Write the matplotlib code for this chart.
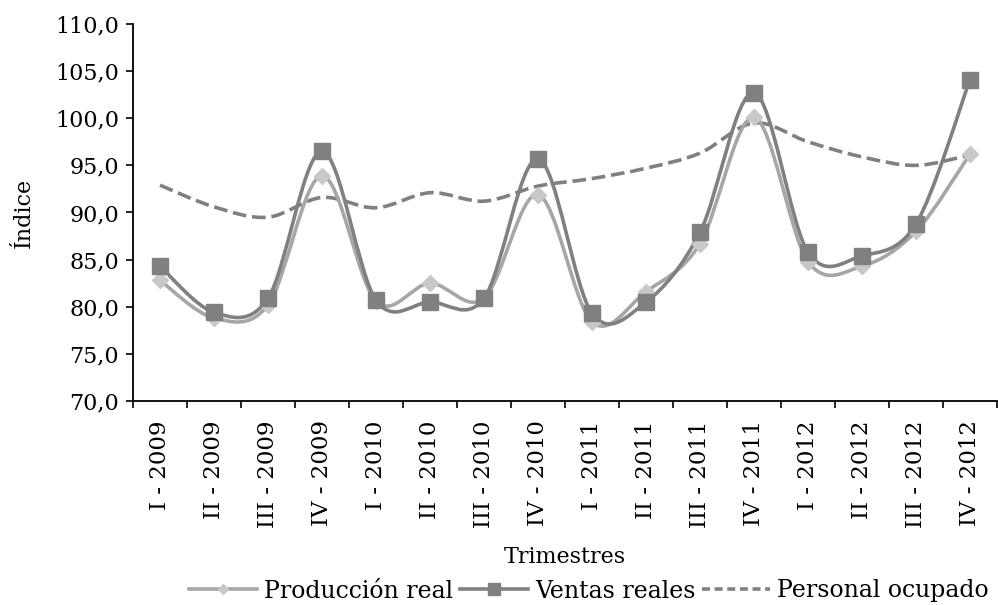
import matplotlib
matplotlib.use("Agg")
import matplotlib.pyplot as plt
from matplotlib.path import Path
from matplotlib.patches import PathPatch
from matplotlib.lines import Line2D
from matplotlib.ticker import FuncFormatter, FixedLocator

plt.rcParams['font.family'] = ['DejaVu Serif']

categories = ["I - 2009", "II - 2009", "III - 2009", "IV - 2009",
              "I - 2010", "II - 2010", "III - 2010", "IV - 2010",
              "I - 2011", "II - 2011", "III - 2011", "IV - 2011",
              "I - 2012", "II - 2012", "III - 2012", "IV - 2012"]
produccion = [82.8, 78.8, 80.2, 93.9, 80.6, 82.5, 80.9, 91.9,
              78.4, 81.6, 86.7, 100.1, 84.8, 84.3, 88.0, 96.2]
ventas = [84.3, 79.4, 80.9, 96.5, 80.7, 80.5, 80.9, 95.7,
          79.3, 80.5, 87.9, 102.7, 85.8, 85.4, 88.8, 104.1]
personal = [92.9, 90.6, 89.5, 91.6, 90.5, 92.1, 91.2, 92.8,
            93.6, 94.7, 96.3, 99.5, 97.5, 95.9, 95.0, 96.1]
series_names = ["Producción real", "Ventas reales", "Personal ocupado"]

fig = plt.figure(figsize=(9.98, 6.05), dpi=100)
ax = fig.add_axes([133/998, 1-401/605, (997-133)/998, (401-24)/605])

x = list(range(len(categories)))


def smooth_path(xs, ys):
    n = len(xs)
    verts = [(xs[0], ys[0])]
    codes = [Path.MOVETO]
    for i in range(n - 1):
        i0 = max(i - 1, 0)
        i3 = min(i + 2, n - 1)
        c1 = (xs[i] + (xs[i + 1] - xs[i0]) / 6, ys[i] + (ys[i + 1] - ys[i0]) / 6)
        c2 = (xs[i + 1] - (xs[i3] - xs[i]) / 6, ys[i + 1] - (ys[i3] - ys[i]) / 6)
        verts += [c1, c2, (xs[i + 1], ys[i + 1])]
        codes += [Path.CURVE4] * 3
    return Path(verts, codes)


c_prod_line = '#A6A6A6'
c_prod_mark = '#C8C8C8'
c_vent = '#808080'
c_pers = '#808080'
dash = (0, (3.8, 1.6))

for ys, col, ls, z in [(personal, c_pers, dash, 2),
                       (produccion, c_prod_line, '-', 3),
                       (ventas, c_vent, '-', 4)]:
    patch = PathPatch(smooth_path(x, ys), facecolor='none', edgecolor=col,
                      lw=2.6, linestyle=ls, transform=ax.transData, zorder=z,
                      capstyle='butt')
    ax.add_patch(patch)

ax.plot(x, produccion, linestyle='none', marker='D', markersize=8,
        color=c_prod_mark, zorder=5)
ax.plot(x, ventas, linestyle='none', marker='s', markersize=12,
        color=c_vent, zorder=6)

ax.set_xlim(-0.5, len(categories) - 0.5)
ax.set_ylim(70, 110)
ax.set_yticks([70 + 5 * i for i in range(9)])
ax.yaxis.set_major_formatter(FuncFormatter(lambda v, p: f"{v:.1f}".replace('.', ',')))

ax.set_xticks(x)
ax.set_xticklabels(categories, rotation=90, fontsize=16.5)
ax.xaxis.set_minor_locator(FixedLocator([i - 0.5 for i in range(len(categories) + 1)]))
ax.tick_params(axis='x', which='major', length=0, pad=14)
ax.tick_params(axis='x', which='minor', length=5, width=1.2, direction='out')
ax.tick_params(axis='y', length=5, width=1.2, direction='out', labelsize=16, pad=5)

for s in ['top', 'right']:
    ax.spines[s].set_visible(False)
for s in ['left', 'bottom']:
    ax.spines[s].set_linewidth(1.3)

ax.set_ylabel("Índice", fontsize=16, labelpad=15)
ax.set_xlabel("Trimestres", fontsize=16, labelpad=13)

handles = [
    Line2D([], [], color=c_prod_line, lw=2.6, marker='D', markersize=5.5,
           markerfacecolor=c_prod_mark, markeredgecolor=c_prod_mark),
    Line2D([], [], color=c_vent, lw=2.6, marker='s', markersize=8.5),
    Line2D([], [], color=c_pers, lw=2.6, linestyle=(0, (2.2, 1.3))),
]
fig.legend(handles, series_names, loc='center', bbox_to_anchor=(589/998, 1-591/605),
           ncol=3, frameon=False, fontsize=17, handlelength=2.9,
           handletextpad=0.3, columnspacing=0.26, borderaxespad=0, borderpad=0)

fig.savefig("out.png", dpi=100)
